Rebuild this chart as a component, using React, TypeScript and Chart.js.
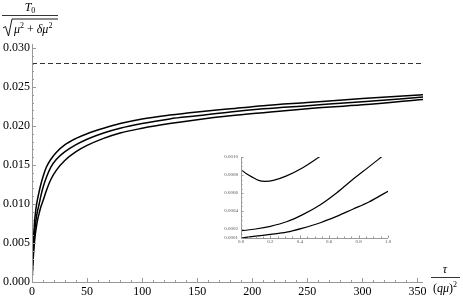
import React, { useEffect, useRef } from "react";
import { Chart, registerables } from "chart.js";
Chart.register(...registerables);

// ---- main chart data ----
const tauValues = [0, 0.5, 1, 2, 3, 4, 5, 6.5, 8, 10, 13, 17, 22, 30, 40, 50, 65, 80, 100, 125, 150, 180, 210, 250, 300, 355];
const upperCurve = [0, 0.0027, 0.0046, 0.0071, 0.0087, 0.0098, 0.0106, 0.0116, 0.0125, 0.0135, 0.0147, 0.0157, 0.0166, 0.0176, 0.0184, 0.019, 0.0197, 0.0203, 0.0209, 0.0214, 0.0218, 0.0222, 0.0226, 0.023, 0.0235, 0.024];
const middleCurve = [0, 0.0021, 0.0036, 0.0057, 0.0072, 0.0083, 0.0091, 0.01, 0.011, 0.0121, 0.0134, 0.0147, 0.0157, 0.0167, 0.0176, 0.0183, 0.0191, 0.0197, 0.0203, 0.0209, 0.0213, 0.0218, 0.0222, 0.0226, 0.0231, 0.0237];
const lowerCurve = [0, 0.0016, 0.0028, 0.0047, 0.0061, 0.0071, 0.0079, 0.0088, 0.0096, 0.0104, 0.0117, 0.0131, 0.0143, 0.0156, 0.0167, 0.0175, 0.0184, 0.0191, 0.0197, 0.0203, 0.0208, 0.0213, 0.0217, 0.0222, 0.0227, 0.0234];
const limitLevel = 0.028;
const limitTau = [0, 355];
const xTickLabels = [0, 50, 100, 150, 200, 250, 300, 350];
const yTickLabels = [0, 0.005, 0.01, 0.015, 0.02, 0.025, 0.03];

// ---- inset data ----
const insetUpperX = [0, 0.04, 0.084, 0.12, 0.163, 0.22, 0.31, 0.42, 0.55];
const insetUpperY = [0.00086, 0.00081, 0.00077, 0.00074, 0.00073, 0.00074, 0.00079, 0.00088, 0.00102];
const insetMiddleX = [0, 0.1, 0.2, 0.31, 0.42, 0.54, 0.65, 0.76, 0.87, 0.97];
const insetMiddleY = [0.00018, 0.0002, 0.00023, 0.00028, 0.00036, 0.00047, 0.0006, 0.00075, 0.00089, 0.00102];
const insetLowerX = [0, 0.1, 0.2, 0.31, 0.42, 0.54, 0.65, 0.76, 0.87, 1.0];
const insetLowerY = [0.0001, 0.00012, 0.00014, 0.000165, 0.00021, 0.00027, 0.00034, 0.00042, 0.0005, 0.00062];
const insetXTickLabels = [0, 0.2, 0.4, 0.6, 0.8, 1.0];
const insetYTickLabels = [0.0001, 0.0002, 0.0004, 0.0006, 0.0008, 0.001];

const SERIF = "'Liberation Serif', 'DejaVu Serif', serif";

function zipXY(xs: number[], ys: number[]) {
  return xs.map((x, i) => ({ x, y: ys[i] }));
}

function axesPlugin(id: string, xStep: number, xMajorEvery: number, yStep: number, yMajorEvery: number, majorLen: number, minorLen: number, color: string) {
  return {
    id,
    afterDraw(chart: any) {
      const { ctx, chartArea } = chart;
      const xs = chart.scales.x;
      const ys = chart.scales.y;
      ctx.save();
      ctx.strokeStyle = color;
      ctx.lineWidth = 1;
      ctx.beginPath();
      ctx.moveTo(chartArea.left, Math.round(chartArea.bottom) + 0.5);
      ctx.lineTo(chartArea.right, Math.round(chartArea.bottom) + 0.5);
      ctx.moveTo(Math.round(chartArea.left) + 0.5, chartArea.bottom);
      ctx.lineTo(Math.round(chartArea.left) + 0.5, chartArea.top);
      const nx = Math.round((xs.max - xs.min) / xStep);
      for (let i = 0; i <= nx; i++) {
        const v = xs.min + i * xStep;
        if (v > xs.max + 1e-12) break;
        const px = Math.round(xs.getPixelForValue(v)) + 0.5;
        const len = i % xMajorEvery === 0 ? majorLen : minorLen;
        ctx.moveTo(px, chartArea.bottom);
        ctx.lineTo(px, chartArea.bottom - len);
      }
      const start = Math.ceil(ys.min / yStep - 1e-9);
      const end = Math.floor(ys.max / yStep + 1e-9);
      for (let k = start; k <= end; k++) {
        const v = k * yStep;
        const py = Math.round(ys.getPixelForValue(v)) + 0.5;
        const len = k % yMajorEvery === 0 ? majorLen : minorLen;
        ctx.moveTo(chartArea.left, py);
        ctx.lineTo(chartArea.left + len, py);
      }
      ctx.stroke();
      ctx.restore();
    },
  };
}

function drawPieces(ctx: any, pieces: { t: string; f: string; dy?: number }[], x: number, y: number, align: "left" | "center") {
  let total = 0;
  for (const p of pieces) {
    ctx.font = p.f;
    total += ctx.measureText(p.t).width;
  }
  let cx = align === "center" ? x - total / 2 : x;
  ctx.textAlign = "left";
  ctx.textBaseline = "alphabetic";
  for (const p of pieces) {
    ctx.font = p.f;
    ctx.fillText(p.t, cx, y + (p.dy || 0));
    cx += ctx.measureText(p.t).width;
  }
}

const labelsPlugin = {
  id: "axisTitles",
  afterDraw(chart: any) {
    const ctx = chart.ctx;
    ctx.save();
    ctx.fillStyle = "#000";
    ctx.strokeStyle = "#000";
    drawPieces(ctx, [
      { t: "T", f: `italic 12px ${SERIF}` },
      { t: "0", f: `8px ${SERIF}`, dy: 2 },
    ], 30, 11, "center");
    ctx.lineWidth = 0.8;
    ctx.beginPath();
    ctx.moveTo(2, 15.5);
    ctx.lineTo(58, 15.5);
    ctx.stroke();
    ctx.lineWidth = 0.9;
    ctx.beginPath();
    ctx.moveTo(3, 28);
    ctx.lineTo(5.5, 26.5);
    ctx.lineTo(8.5, 36);
    ctx.lineTo(12, 19);
    ctx.lineTo(58, 19);
    ctx.stroke();
    drawPieces(ctx, [
      { t: "μ", f: `italic 12px ${SERIF}` },
      { t: "2", f: `8px ${SERIF}`, dy: -5 },
      { t: " + ", f: `12px ${SERIF}` },
      { t: "δμ", f: `italic 12px ${SERIF}` },
      { t: "2", f: `8px ${SERIF}`, dy: -5 },
    ], 14, 33, "left");
    drawPieces(ctx, [{ t: "τ", f: `italic 12px ${SERIF}` }], 445, 273, "center");
    ctx.lineWidth = 0.8;
    ctx.beginPath();
    ctx.moveTo(431, 277.5);
    ctx.lineTo(460, 277.5);
    ctx.stroke();
    drawPieces(ctx, [
      { t: "(", f: `12px ${SERIF}` },
      { t: "q", f: `italic 12px ${SERIF}` },
      { t: "μ", f: `italic 12px ${SERIF}` },
      { t: ")", f: `12px ${SERIF}` },
      { t: "2", f: `8px ${SERIF}`, dy: -5 },
    ], 445, 292, "center");
    ctx.restore();
  },
};

function MainChart() {
  const ref = useRef<HTMLCanvasElement | null>(null);
  useEffect(() => {
    if (!ref.current) return;
    const lineStyle = { borderColor: "#000", borderWidth: 1.5, pointRadius: 0, showLine: true, cubicInterpolationMode: "monotone" as const, fill: false };
    const chart = new Chart(ref.current, {
      type: "scatter",
      data: {
        datasets: [
          { data: zipXY(tauValues, upperCurve), ...lineStyle },
          { data: zipXY(tauValues, middleCurve), ...lineStyle },
          { data: zipXY(tauValues, lowerCurve), ...lineStyle },
          {
            data: limitTau.map((x) => ({ x, y: limitLevel })),
            borderColor: "#333",
            borderWidth: 1.2,
            borderDash: [5, 3],
            pointRadius: 0,
            showLine: true,
          },
        ],
      },
      options: {
        responsive: false,
        animation: false,
        devicePixelRatio: 1,
        layout: { padding: { left: 0, right: 40, top: 44, bottom: 0 } },
        plugins: { legend: { display: false }, tooltip: { enabled: false } },
        scales: {
          x: {
            type: "linear",
            min: 0,
            max: 355,
            grid: { display: false, drawTicks: false },
            border: { display: false },
            afterBuildTicks: (s: any) => { s.ticks = xTickLabels.map((v) => ({ value: v })); },
            afterFit: (s: any) => { s.height = 16; },
            ticks: {
              autoSkip: false,
              maxRotation: 0,
              padding: 3,
              color: "#000",
              font: { family: SERIF, size: 12 },
              callback: (v: any) => String(v),
            },
          },
          y: {
            type: "linear",
            min: 0,
            max: 0.0305,
            grid: { display: false, drawTicks: false },
            border: { display: false },
            afterBuildTicks: (s: any) => { s.ticks = yTickLabels.map((v) => ({ value: v })); },
            afterFit: (s: any) => { s.width = 32; },
            ticks: {
              autoSkip: false,
              padding: 2,
              color: "#000",
              font: { family: SERIF, size: 12 },
              callback: (v: any) => Number(v).toFixed(3),
            },
          },
        },
      },
      plugins: [axesPlugin("mainAxes", 10, 5, 0.001, 5, 4, 2, "#999"), labelsPlugin],
    });
    return () => chart.destroy();
  }, []);
  return <canvas ref={ref} width={463} height={298} style={{ position: "absolute", left: 0, top: 0, width: 463, height: 298 }} />;
}

function InsetChart() {
  const ref = useRef<HTMLCanvasElement | null>(null);
  useEffect(() => {
    if (!ref.current) return;
    const lineStyle = { borderColor: "#000", borderWidth: 1.2, pointRadius: 0, showLine: true, cubicInterpolationMode: "monotone" as const, fill: false };
    const chart = new Chart(ref.current, {
      type: "scatter",
      data: {
        datasets: [
          { data: zipXY(insetUpperX, insetUpperY), ...lineStyle },
          { data: zipXY(insetMiddleX, insetMiddleY), ...lineStyle },
          { data: zipXY(insetLowerX, insetLowerY), ...lineStyle },
        ],
      },
      options: {
        responsive: false,
        animation: false,
        devicePixelRatio: 1,
        layout: { padding: { left: 0, right: 7, top: 12, bottom: 0 } },
        plugins: { legend: { display: false }, tooltip: { enabled: false } },
        scales: {
          x: {
            type: "linear",
            min: 0,
            max: 1,
            grid: { display: false, drawTicks: false },
            border: { display: false },
            afterBuildTicks: (s: any) => { s.ticks = insetXTickLabels.map((v) => ({ value: v })); },
            afterFit: (s: any) => { s.height = 9; },
            ticks: {
              autoSkip: false,
              maxRotation: 0,
              padding: 1,
              color: "#555",
              font: { family: SERIF, size: 5 },
              callback: (v: any) => Number(v).toFixed(1),
            },
          },
          y: {
            type: "linear",
            min: 0.0001,
            max: 0.001,
            grid: { display: false, drawTicks: false },
            border: { display: false },
            afterBuildTicks: (s: any) => { s.ticks = insetYTickLabels.map((v) => ({ value: v })); },
            afterFit: (s: any) => { s.width = 41; },
            ticks: {
              autoSkip: false,
              padding: 3,
              color: "#555",
              font: { family: SERIF, size: 5 },
              callback: (v: any) => Number(v).toFixed(4),
            },
          },
        },
      },
      plugins: [axesPlugin("insetAxes", 0.05, 4, 0.00005, 4, 2.5, 1.5, "#999")],
    });
    return () => chart.destroy();
  }, []);
  return <canvas ref={ref} width={195} height={102} style={{ position: "absolute", left: 200, top: 145, width: 195, height: 102 }} />;
}

export default function App() {
  return (
    <div style={{ position: "fixed", left: 0, top: 0, width: 463, height: 298, background: "#fff" }}>
      <MainChart />
      <InsetChart />
    </div>
  );
}
